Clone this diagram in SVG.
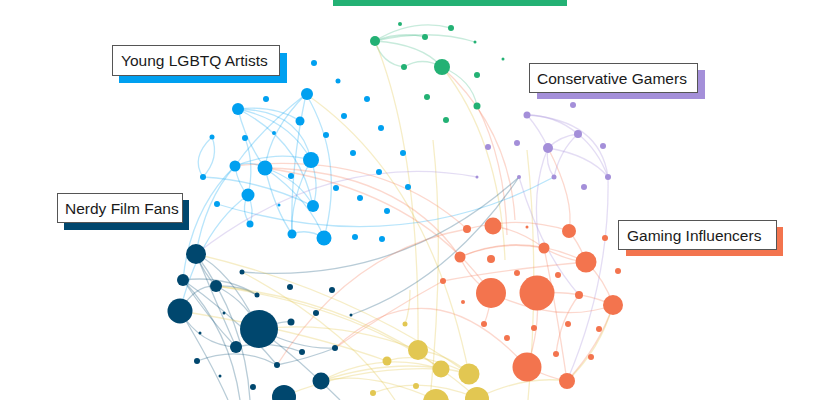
<svg xmlns="http://www.w3.org/2000/svg" width="840" height="400" viewBox="0 0 840 400">
<style>
.g{fill:#23b174}.b{fill:#00a0f0}.p{fill:#a48fd9}.n{fill:#00476e}.o{fill:#f3744e}.y{fill:#e2c752}
#edges path{fill:none;stroke-width:1.3}
.eg{stroke:#23b174;stroke-opacity:.25}.eb{stroke:#00a0f0;stroke-opacity:.28}.ep{stroke:#a48fd9;stroke-opacity:.3}
.en{stroke:#00476e;stroke-opacity:.28}.eo{stroke:#f3744e;stroke-opacity:.28}.ey{stroke:#e2c752;stroke-opacity:.32}
.box{fill:#fff;stroke:#555;stroke-width:1}
.lbl{font-family:"Liberation Sans",Arial,sans-serif;font-size:15.5px;fill:#1a1a1a}
</style>
<rect width="840" height="400" fill="#fff"/>
<rect x="333" y="0" width="234" height="6" class="g"/>
<g id="edges">
<path class="eg" d="M375,41 Q413,18 451,28"/>
<path class="eg" d="M375,41 Q400,31 425,37"/>
<path class="eg" d="M375,41 Q430,28 475,42"/>
<path class="eg" d="M375,41 Q382,64 404,67"/>
<path class="eg" d="M404,67 Q422,56 442,67"/>
<path class="eg" d="M375,41 Q422,44 442,67"/>
<path class="eg" d="M442,67 Q472,80 477,106"/>
<path class="ey" d="M375,41 Q420,150 418,350"/>
<path class="ey" d="M442,67 Q500,140 505,260"/>
<path class="eo" d="M442,67 Q510,130 515,220"/>
<path class="eo" d="M477,106 Q505,160 507,235"/>
<path class="ey" d="M306,94 Q430,180 469,374"/>
<path class="ey" d="M433,140 Q445,250 430,400"/>
<path class="ey" d="M527,150 Q540,270 528,400"/>
<path class="eb" d="M238,109 Q290,120 311,160"/>
<path class="eb" d="M238,109 Q300,110 311,160"/>
<path class="eb" d="M238,109 Q275,105 300,121"/>
<path class="eb" d="M238,109 Q300,140 313,206"/>
<path class="eb" d="M238,109 Q245,140 265,168"/>
<path class="eb" d="M306,94 Q270,130 265,168"/>
<path class="eb" d="M306,94 Q260,130 235,166"/>
<path class="eb" d="M306,94 Q345,160 324,238"/>
<path class="eb" d="M306,94 Q290,170 292,234"/>
<path class="eb" d="M212,137 Q190,158 203,177"/>
<path class="eb" d="M212,137 Q220,158 203,177"/>
<path class="eb" d="M235,166 Q275,150 311,160"/>
<path class="eb" d="M235,166 Q250,160 265,168"/>
<path class="eb" d="M235,166 Q238,185 248,195"/>
<path class="eb" d="M265,168 Q300,180 313,206"/>
<path class="eb" d="M265,168 Q310,200 324,238"/>
<path class="eb" d="M265,168 Q275,210 292,234"/>
<path class="eb" d="M248,195 Q240,210 250,224"/>
<path class="eb" d="M248,195 Q255,210 250,224"/>
<path class="eb" d="M203,177 Q260,180 313,206"/>
<path class="eb" d="M292,234 Q308,228 324,238"/>
<path class="eb" d="M311,160 Q320,185 313,206"/>
<path class="eb" d="M311,160 Q290,200 292,234"/>
<path class="eb" d="M245,138 Q255,165 248,195"/>
<path class="eb" d="M217,204 Q400,260 554,177"/>
<path class="eb" d="M235,166 Q205,200 196,254"/>
<path class="eb" d="M235,166 Q190,210 183,280"/>
<path class="eb" d="M248,195 Q200,230 180,311"/>
<path class="ep" d="M527,115 Q555,115 578,134"/>
<path class="ep" d="M527,115 Q540,130 548,148"/>
<path class="ep" d="M527,115 Q600,120 608,177"/>
<path class="ep" d="M578,134 Q560,136 548,148"/>
<path class="ep" d="M578,134 Q560,150 554,177"/>
<path class="ep" d="M548,148 Q590,155 608,177"/>
<path class="ep" d="M548,148 Q545,165 554,177"/>
<path class="ep" d="M578,134 Q598,150 608,177"/>
<path class="ep" d="M548,148 Q530,190 540,250"/>
<path class="ep" d="M477,177 Q330,150 196,254"/>
<path class="ep" d="M608,177 Q610,280 567,381"/>
<path class="ep" d="M519,177 Q540,250 579,295"/>
<path class="en" d="M196,254 Q205,275 216,286"/>
<path class="en" d="M196,254 Q230,270 259,329"/>
<path class="en" d="M196,254 Q215,300 236,347"/>
<path class="en" d="M183,280 Q225,275 257,295"/>
<path class="en" d="M183,280 Q210,320 236,347"/>
<path class="en" d="M183,280 Q240,320 277,365"/>
<path class="en" d="M216,286 Q240,285 257,295"/>
<path class="en" d="M216,286 Q245,300 259,329"/>
<path class="en" d="M180,311 Q195,285 216,286"/>
<path class="en" d="M180,311 Q200,345 236,347"/>
<path class="en" d="M259,329 Q300,350 335,348"/>
<path class="en" d="M236,347 Q270,340 302,352"/>
<path class="en" d="M197,361 Q240,345 277,365"/>
<path class="en" d="M277,365 Q310,358 335,348"/>
<path class="en" d="M242,272 Q400,285 519,177"/>
<path class="en" d="M351,315 Q450,280 519,177"/>
<path class="en" d="M259,329 Q285,320 291,322"/>
<path class="en" d="M259,329 Q300,360 340,400"/>
<path class="en" d="M183,280 Q230,330 240,400"/>
<path class="en" d="M196,254 Q245,320 250,400"/>
<path class="en" d="M180,311 Q210,360 228,400"/>
<path class="eo" d="M467,229 Q520,215 569,231"/>
<path class="eo" d="M460,257 Q500,240 544,248"/>
<path class="eo" d="M460,257 Q520,230 586,262"/>
<path class="eo" d="M493,226 Q520,230 544,248"/>
<path class="eo" d="M544,248 Q565,260 586,262"/>
<path class="eo" d="M569,231 Q580,245 586,262"/>
<path class="eo" d="M586,262 Q605,280 613,305"/>
<path class="eo" d="M491,293 Q560,325 613,305"/>
<path class="eo" d="M537,293 Q580,290 613,305"/>
<path class="eo" d="M460,257 Q470,280 491,293"/>
<path class="eo" d="M443,281 Q500,270 586,262"/>
<path class="eo" d="M527,367 Q550,378 567,381"/>
<path class="eo" d="M567,381 Q600,345 613,305"/>
<path class="eo" d="M567,381 Q555,300 544,248"/>
<path class="eo" d="M579,295 Q560,320 556,354"/>
<path class="eo" d="M491,293 Q490,310 484,324"/>
<path class="eo" d="M537,293 Q540,330 527,367"/>
<path class="eo" d="M265,168 Q400,170 460,257"/>
<path class="eo" d="M235,166 Q380,150 467,229"/>
<path class="eo" d="M265,168 Q420,190 491,293"/>
<path class="eo" d="M277,365 Q350,250 467,229"/>
<path class="eo" d="M335,348 Q430,260 527,367"/>
<path class="eo" d="M335,348 Q390,310 443,281"/>
<path class="eo" d="M548,148 Q575,200 569,231"/>
<path class="ey" d="M196,254 Q350,290 469,374"/>
<path class="ey" d="M216,286 Q350,300 441,369"/>
<path class="ey" d="M216,286 Q380,310 477,398"/>
<path class="ey" d="M259,329 Q340,320 418,350"/>
<path class="ey" d="M180,311 Q300,330 387,361"/>
<path class="ey" d="M321,381 Q400,355 469,374"/>
<path class="ey" d="M321,381 Q380,350 441,369"/>
<path class="ey" d="M321,381 Q370,370 436,400"/>
<path class="ey" d="M405,324 Q410,310 410,290"/>
<path class="ey" d="M477,398 Q525,375 567,381"/>
<path class="ey" d="M613,305 Q600,350 567,381"/>
<path class="ey" d="M387,361 Q420,350 469,374"/>
<path class="ey" d="M418,350 Q450,355 469,374"/>
<path class="ey" d="M284,396 Q360,365 441,369"/>
<path class="ey" d="M373,393 Q420,375 477,398"/>
<path class="ey" d="M242,272 Q350,330 395,400"/>
</g>
<g id="green-nodes">
<g id="g1"><circle class="g" cx="375" cy="41" r="5"/></g>
<g id="g2"><circle class="g" cx="400" cy="24" r="2"/></g>
<g id="g3"><circle class="g" cx="425" cy="37" r="3"/></g>
<g id="g4"><circle class="g" cx="451" cy="28" r="3"/></g>
<g id="g5"><circle class="g" cx="475" cy="42" r="1.5"/></g>
<g id="g6"><circle class="g" cx="503" cy="59" r="1.5"/></g>
<g id="g7"><circle class="g" cx="404" cy="67" r="3"/></g>
<g id="g8"><circle class="g" cx="442" cy="67" r="8"/></g>
<g id="g9"><circle class="g" cx="477" cy="75" r="3"/></g>
<g id="g10"><circle class="g" cx="477" cy="106" r="3.5"/></g>
<g id="g11"><circle class="g" cx="427" cy="97" r="3"/></g>
<g id="g12"><circle class="g" cx="446" cy="120" r="3"/></g>
</g>
<g id="blue-nodes">
<g id="b1"><circle class="b" cx="307" cy="94" r="6"/></g>
<g id="b2"><circle class="b" cx="266" cy="99" r="3"/></g>
<g id="b3"><circle class="b" cx="238" cy="109" r="6"/></g>
<g id="b4"><circle class="b" cx="338" cy="81" r="2.5"/></g>
<g id="b5"><circle class="b" cx="314" cy="63" r="3"/></g>
<g id="b6"><circle class="b" cx="367" cy="99" r="3"/></g>
<g id="b7"><circle class="b" cx="300" cy="121" r="4.5"/></g>
<g id="b8"><circle class="b" cx="344" cy="116" r="3"/></g>
<g id="b9"><circle class="b" cx="381" cy="128" r="3"/></g>
<g id="b10"><circle class="b" cx="212" cy="137" r="2.5"/></g>
<g id="b11"><circle class="b" cx="245" cy="138" r="3"/></g>
<g id="b12"><circle class="b" cx="274" cy="133" r="2"/></g>
<g id="b13"><circle class="b" cx="326" cy="135" r="3"/></g>
<g id="b14"><circle class="b" cx="353" cy="153" r="3"/></g>
<g id="b15"><circle class="b" cx="403" cy="153" r="3"/></g>
<g id="b16"><circle class="b" cx="311" cy="160" r="8"/></g>
<g id="b17"><circle class="b" cx="235" cy="166" r="5.5"/></g>
<g id="b18"><circle class="b" cx="265" cy="168" r="7.5"/></g>
<g id="b19"><circle class="b" cx="203" cy="177" r="3"/></g>
<g id="b20"><circle class="b" cx="291" cy="176" r="3"/></g>
<g id="b21"><circle class="b" cx="379" cy="172" r="3"/></g>
<g id="b22"><circle class="b" cx="336" cy="188" r="3"/></g>
<g id="b23"><circle class="b" cx="408" cy="187" r="3"/></g>
<g id="b24"><circle class="b" cx="248" cy="195" r="6.5"/></g>
<g id="b25"><circle class="b" cx="360" cy="198" r="3"/></g>
<g id="b26"><circle class="b" cx="217" cy="204" r="3"/></g>
<g id="b27"><circle class="b" cx="279" cy="205" r="1.5"/></g>
<g id="b28"><circle class="b" cx="313" cy="206" r="6"/></g>
<g id="b29"><circle class="b" cx="387" cy="211" r="3"/></g>
<g id="b30"><circle class="b" cx="250" cy="224" r="3.5"/></g>
<g id="b31"><circle class="b" cx="292" cy="234" r="4.5"/></g>
<g id="b32"><circle class="b" cx="324" cy="238" r="7.5"/></g>
<g id="b33"><circle class="b" cx="355" cy="237" r="3"/></g>
<g id="b34"><circle class="b" cx="382" cy="239" r="3"/></g>
</g>
<g id="purple-nodes">
<g id="p1"><circle class="p" cx="573" cy="105" r="3"/></g>
<g id="p2"><circle class="p" cx="527" cy="115" r="3.5"/></g>
<g id="p3"><circle class="p" cx="578" cy="134" r="4"/></g>
<g id="p4"><circle class="p" cx="488" cy="147" r="3"/></g>
<g id="p5"><circle class="p" cx="517" cy="143" r="3"/></g>
<g id="p6"><circle class="p" cx="548" cy="148" r="5"/></g>
<g id="p7"><circle class="p" cx="603" cy="146" r="3"/></g>
<g id="p8"><circle class="p" cx="477" cy="177" r="1.5"/></g>
<g id="p9"><circle class="p" cx="519" cy="177" r="2"/></g>
<g id="p10"><circle class="p" cx="554" cy="177" r="2.5"/></g>
<g id="p11"><circle class="p" cx="608" cy="177" r="3"/></g>
<g id="p12"><circle class="p" cx="584" cy="187" r="3"/></g>
</g>
<g id="navy-nodes">
<g id="n1"><circle class="n" cx="196" cy="254" r="10"/></g>
<g id="n2"><circle class="n" cx="183" cy="280" r="6"/></g>
<g id="n3"><circle class="n" cx="216" cy="286" r="6"/></g>
<g id="n4"><circle class="n" cx="242" cy="272" r="2.5"/></g>
<g id="n5"><circle class="n" cx="257" cy="295" r="2.5"/></g>
<g id="n6"><circle class="n" cx="290" cy="287" r="3"/></g>
<g id="n7"><circle class="n" cx="332" cy="290" r="3"/></g>
<g id="n8"><circle class="n" cx="180" cy="311" r="12.5"/></g>
<g id="n9"><circle class="n" cx="224" cy="313" r="1.5"/></g>
<g id="n10"><circle class="n" cx="259" cy="329" r="19"/></g>
<g id="n11"><circle class="n" cx="291" cy="322" r="3.5"/></g>
<g id="n12"><circle class="n" cx="316" cy="313" r="3"/></g>
<g id="n13"><circle class="n" cx="351" cy="315" r="1.5"/></g>
<g id="n14"><circle class="n" cx="200" cy="333" r="1.5"/></g>
<g id="n15"><circle class="n" cx="236" cy="347" r="6"/></g>
<g id="n16"><circle class="n" cx="302" cy="352" r="3"/></g>
<g id="n17"><circle class="n" cx="335" cy="348" r="3"/></g>
<g id="n18"><circle class="n" cx="197" cy="361" r="3"/></g>
<g id="n19"><circle class="n" cx="277" cy="365" r="3"/></g>
<g id="n20"><circle class="n" cx="220" cy="376" r="1.5"/></g>
<g id="n21"><circle class="n" cx="321" cy="381" r="8.5"/></g>
<g id="n22"><circle class="n" cx="253" cy="387" r="3"/></g>
<g id="n23"><circle class="n" cx="284" cy="397" r="12"/></g>
</g>
<g id="orange-nodes">
<g id="o1"><circle class="o" cx="493" cy="226" r="8.5"/></g>
<g id="o2"><circle class="o" cx="467" cy="229" r="4"/></g>
<g id="o3"><circle class="o" cx="527" cy="227" r="1.5"/></g>
<g id="o4"><circle class="o" cx="569" cy="231" r="7"/></g>
<g id="o5"><circle class="o" cx="605" cy="238" r="3"/></g>
<g id="o6"><circle class="o" cx="544" cy="248" r="5.5"/></g>
<g id="o7"><circle class="o" cx="460" cy="257" r="5.5"/></g>
<g id="o8"><circle class="o" cx="491" cy="259" r="4"/></g>
<g id="o9"><circle class="o" cx="586" cy="262" r="10.5"/></g>
<g id="o10"><circle class="o" cx="443" cy="281" r="3"/></g>
<g id="o11"><circle class="o" cx="517" cy="273" r="3"/></g>
<g id="o12"><circle class="o" cx="558" cy="275" r="3"/></g>
<g id="o13"><circle class="o" cx="618" cy="271" r="3"/></g>
<g id="o14"><circle class="o" cx="491" cy="293" r="15"/></g>
<g id="o15"><circle class="o" cx="537" cy="293" r="17.5"/></g>
<g id="o16"><circle class="o" cx="579" cy="295" r="4"/></g>
<g id="o17"><circle class="o" cx="463" cy="302" r="2"/></g>
<g id="o18"><circle class="o" cx="613" cy="305" r="10"/></g>
<g id="o19"><circle class="o" cx="484" cy="324" r="3"/></g>
<g id="o20"><circle class="o" cx="534" cy="328" r="3"/></g>
<g id="o21"><circle class="o" cx="568" cy="324" r="3"/></g>
<g id="o22"><circle class="o" cx="599" cy="329" r="3"/></g>
<g id="o23"><circle class="o" cx="507" cy="338" r="3"/></g>
<g id="o24"><circle class="o" cx="556" cy="354" r="3"/></g>
<g id="o25"><circle class="o" cx="591" cy="357" r="3"/></g>
<g id="o26"><circle class="o" cx="527" cy="367" r="14.5"/></g>
<g id="o27"><circle class="o" cx="567" cy="381" r="8"/></g>
</g>
<g id="yellow-nodes">
<g id="y1"><circle class="y" cx="405" cy="324" r="2.5"/></g>
<g id="y2"><circle class="y" cx="418" cy="350" r="10"/></g>
<g id="y3"><circle class="y" cx="387" cy="361" r="4.5"/></g>
<g id="y4"><circle class="y" cx="441" cy="369" r="8.5"/></g>
<g id="y5"><circle class="y" cx="469" cy="374" r="10.5"/></g>
<g id="y6"><circle class="y" cx="416" cy="386" r="3"/></g>
<g id="y7"><circle class="y" cx="373" cy="393" r="3"/></g>
<g id="y8"><circle class="y" cx="436" cy="402" r="13"/></g>
<g id="y9"><circle class="y" cx="477" cy="399" r="12"/></g>
</g>
<g id="label-lgbtq">
<rect x="119" y="53" width="168" height="30" fill="#00a0f0"/>
<rect class="box" x="112.5" y="45.5" width="167" height="30"/>
<text class="lbl" x="121" y="66">Young LGBTQ Artists</text>
</g>
<g id="label-conservative">
<rect x="537" y="70" width="168" height="29" fill="#a48fd9"/>
<rect class="box" x="529.5" y="63.5" width="168" height="29"/>
<text class="lbl" x="537" y="83.5">Conservative Gamers</text>
</g>
<g id="label-film">
<rect x="64" y="200" width="125" height="30" fill="#00476e"/>
<rect class="box" x="57.5" y="193.5" width="125" height="29"/>
<text class="lbl" x="65" y="214">Nerdy Film Fans</text>
</g>
<g id="label-gaming">
<rect x="626" y="227" width="157" height="29" fill="#f3744e"/>
<rect class="box" x="618.5" y="220.5" width="158" height="29"/>
<text class="lbl" x="627" y="241">Gaming Influencers</text>
</g>
</svg>
